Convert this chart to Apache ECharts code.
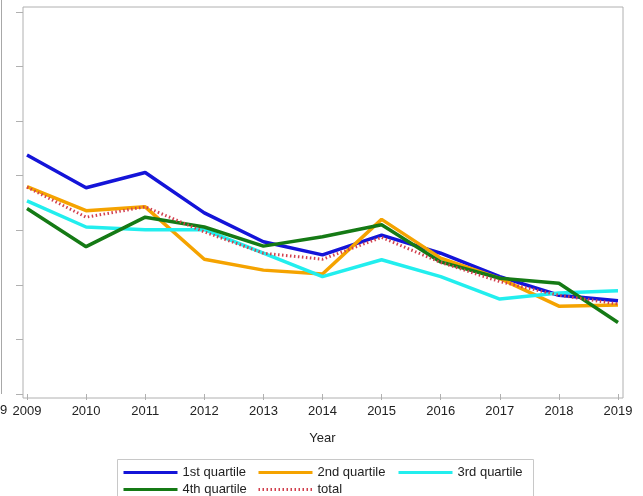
<!DOCTYPE html>
<html>
<head>
<meta charset="utf-8">
<script src="https://cdn.jsdelivr.net/npm/echarts@6/dist/echarts.min.js"></script>
<style>html,body{margin:0;padding:0;background:#fff}#c{width:643px;height:496px}</style>
</head>
<body>
<div id="c"></div>
<script>
var years = ['2009','2010','2011','2012','2013','2014','2015','2016','2017','2018','2019'];
var q1 = [4.38, 3.78, 4.06, 3.32, 2.79, 2.55, 2.91, 2.58, 2.15, 1.81, 1.71];
var q2 = [3.80, 3.36, 3.43, 2.47, 2.27, 2.20, 3.20, 2.49, 2.12, 1.61, 1.63];
var q3 = [3.54, 3.06, 3.01, 3.01, 2.58, 2.15, 2.46, 2.15, 1.74, 1.85, 1.89];
var q4 = [3.40, 2.70, 3.24, 3.06, 2.71, 2.88, 3.10, 2.42, 2.12, 2.03, 1.31];
var total = [3.79, 3.24, 3.43, 2.97, 2.58, 2.47, 2.87, 2.41, 2.06, 1.81, 1.65];
var seriesNames = ['1st quartile', '2nd quartile', '3rd quartile', '4th quartile', 'total'];

var chart = echarts.init(document.getElementById('c'), null, {renderer: 'canvas'});
var font = 'Liberation Sans, Arial, sans-serif';
var lw = 3.5;
function line(name, data, color, type, width) {
  return {
    name: name, type: 'line', data: data, xAxisIndex: 0, yAxisIndex: 0,
    symbol: 'none', showSymbol: false, silent: true, animation: false,
    lineStyle: {color: color, width: width || lw, type: type || 'solid'},
    itemStyle: {color: color}
  };
}
var legendCommon = {
  orient: 'vertical', itemWidth: 54, itemHeight: 14, itemGap: 4,
  itemStyle: {opacity: 0},
  lineStyle: {width: 3},
  textStyle: {fontFamily: font, fontSize: 13, color: '#222', padding: [0,0,0,0]},
  padding: 0, selectedMode: false
};
chart.setOption({
  animation: false,
  grid: [
    {left: 27, right: 25, top: 12, bottom: 102},
    {left: 23, right: 20, top: 7, bottom: 98, show: true, borderColor: '#b0b0b0', borderWidth: 1, backgroundColor: 'transparent'}
  ],
  xAxis: [
    {type: 'category', data: years, boundaryGap: false, gridIndex: 0, offset: 4,
     axisLine: {show: false}, axisTick: {show: true, length: 6, lineStyle: {color: '#b0b0b0'}},
     axisLabel: {fontFamily: font, fontSize: 13, color: '#222', margin: 7},
     name: 'Year', nameLocation: 'middle', nameGap: 34,
     nameTextStyle: {fontFamily: font, fontSize: 13, color: '#222'}},
    {type: 'value', gridIndex: 1, show: false}
  ],
  yAxis: [
    {type: 'value', min: 0, max: 7, interval: 1, gridIndex: 0, offset: 4,
     axisLine: {show: false}, axisTick: {show: true, length: 7, lineStyle: {color: '#b0b0b0'}},
     axisLabel: {show: false}, splitLine: {show: false}},
    {type: 'value', gridIndex: 1, show: false}
  ],
  legend: [
    Object.assign({left: 122, top: 466, data: [seriesNames[0], seriesNames[3]]}, legendCommon),
    Object.assign({left: 257, top: 466, data: [seriesNames[1], seriesNames[4]]}, legendCommon),
    Object.assign({left: 397, top: 466, data: [seriesNames[2]]}, legendCommon)
  ],
  graphic: [
    {type: 'rect', shape: {x: 117.5, y: 459.5, width: 416, height: 45}, style: {fill: 'none', stroke: '#c8c8c8', lineWidth: 1}, silent: true},
    {type: 'line', shape: {x1: 1.5, y1: 0, x2: 1.5, y2: 394}, style: {stroke: '#a8a8a8', lineWidth: 1}, silent: true},
    {type: 'text', left: 0, top: 404, style: {text: '9', fontFamily: font, fontSize: 13, fill: '#222'}, silent: true}
  ],
  series: [
    line(seriesNames[0], q1, '#1414d8'),
    line(seriesNames[1], q2, '#f5a300'),
    line(seriesNames[2], q3, '#22eeee'),
    line(seriesNames[3], q4, '#157a15'),
    line(seriesNames[4], total, '#d2404e', [1.5, 2.5], 3)
  ]
});
</script>
</body>
</html>
